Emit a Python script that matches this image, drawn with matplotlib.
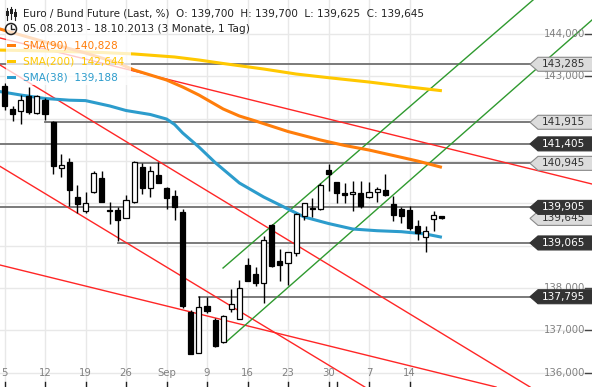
import numpy as np
import pandas as pd
import matplotlib
matplotlib.use("Agg")
import matplotlib.pyplot as plt
from matplotlib.patches import Rectangle, Polygon, Circle
from matplotlib.transforms import blended_transform_factory, IdentityTransform

plt.rcParams['font.family'] = ['DejaVu Sans']

# daily candles, Euro / Bund Future, 05.08.2013 - 18.10.2013
days = pd.bdate_range("2013-08-05", "2013-10-18")
opens = [142.77, 142.23, 142.17, 142.53, 142.13, 142.45, 141.93, 140.83, 140.97, 140.15,
         139.81, 140.28, 140.60, 139.85, 139.84, 139.66, 140.03, 140.85, 140.36, 140.67,
         140.36, 140.17, 139.79, 137.44, 136.46, 137.58, 137.25, 136.72, 137.50, 137.26,
         138.54, 138.32, 138.13, 139.49, 138.64, 138.58, 138.82, 139.71, 139.90, 139.87,
         140.79, 140.50, 140.24, 140.21, 140.24, 140.14, 140.28, 140.32, 139.98, 139.87,
         139.84, 139.47, 139.20, 139.62, 139.700]
highs = [142.84, 142.30, 142.57, 142.75, 142.57, 142.49, 141.95, 141.17, 141.07, 140.43,
         140.28, 140.76, 140.76, 140.03, 139.91, 140.19, 141.01, 140.95, 140.88, 140.98,
         140.39, 140.32, 139.86, 137.48, 137.82, 137.80, 137.29, 137.36, 137.97, 138.19,
         138.72, 138.50, 139.23, 139.51, 138.92, 138.84, 139.77, 140.02, 140.13, 140.47,
         140.93, 140.50, 140.49, 140.53, 140.52, 140.50, 140.38, 140.69, 140.17, 139.92,
         139.94, 139.61, 139.47, 139.82, 139.700]
lows = [142.20, 141.94, 141.88, 142.11, 142.11, 141.98, 140.70, 140.63, 139.93, 139.78,
        139.78, 140.24, 140.03, 139.52, 139.11, 139.65, 140.00, 140.21, 140.14, 140.49,
        139.86, 139.61, 137.52, 136.44, 136.46, 137.40, 136.61, 136.71, 137.44, 137.26,
        138.17, 138.06, 137.64, 138.50, 138.17, 138.07, 138.76, 139.61, 139.67, 139.84,
        140.30, 140.01, 140.00, 139.83, 139.88, 140.12, 140.04, 140.18, 139.59, 139.53,
        139.37, 139.13, 138.86, 139.35, 139.625]
closes = [142.30, 142.11, 142.43, 142.15, 142.54, 142.12, 140.88, 140.90, 140.32, 139.98,
          140.00, 140.71, 140.03, 139.83, 139.61, 140.07, 140.98, 140.36, 140.76, 140.49,
          140.13, 139.91, 137.58, 136.44, 137.56, 137.46, 136.63, 137.34, 137.62, 138.00,
          138.17, 138.11, 139.13, 138.52, 138.54, 138.84, 139.74, 140.00, 139.87, 140.43,
          140.69, 140.24, 140.20, 140.27, 139.94, 140.28, 140.33, 140.19, 139.73, 139.70,
          139.41, 139.29, 139.35, 139.72, 139.645]

# moving averages (bar index, value)
sma38_idx = [-1, 2, 5, 8, 10, 13, 15, 18, 20, 21, 22, 24, 26, 29, 32, 34, 37, 40, 43, 46, 49, 52, 54]
sma38_val = [142.654, 142.559, 142.477, 142.437, 142.427, 142.300, 142.193, 142.099, 141.992,
             141.863, 141.662, 141.331, 140.965, 140.481, 140.150, 139.961, 139.678, 139.524,
             139.394, 139.354, 139.331, 139.276, 139.20]
sma90_idx = [-1, 5, 10, 14, 16, 20, 22, 24, 27, 29, 31, 35, 39, 42, 45, 48, 51, 54]
sma90_val = [144.142, 143.811, 143.551, 143.315, 143.150, 142.914, 142.748, 142.559, 142.229,
             142.063, 141.945, 141.697, 141.497, 141.367, 141.260, 141.130, 141.000, 140.85]
sma200_idx = [-1, 5, 12, 16, 21, 24, 27, 32, 36, 40, 45, 50, 54]
sma200_val = [143.622, 143.599, 143.563, 143.528, 143.457, 143.386, 143.303, 143.173, 143.055,
              142.968, 142.866, 142.748, 142.66]

# trend lines: (idx0, price0, idx1, price1)
red_lines = [(-0.556, 143.906, 72.53, 140.457),
             (-0.556, 143.268, 64.88, 135.663),
             (-0.556, 140.875, 44.48, 135.663),
             (-0.556, 138.544, 60.68, 135.663)]
green_lines = [(26.98, 138.473, 65.25, 144.803),
               (27.35, 136.726, 72.53, 144.331)]

# horizontal levels: price, start index, dark label
levels = [143.285, 141.915, 141.405, 140.945, 139.905, 139.065, 137.795]
level_start = [-1, 5, -1, 16, -1, 14, 24]
level_dark = [False, False, True, False, True, True, True]
last_price = 139.645

# 139..142 sit fully under the level tags
y_ticks = [136, 137, 138, 143, 144]
grid_y = [136, 137, 138, 139, 140, 141, 142, 143, 144]
tick_dates = ["2013-08-05", "2013-08-12", "2013-08-19", "2013-08-26", "2013-09-02", "2013-09-09",
              "2013-09-16", "2013-09-23", "2013-09-30", "2013-10-01", "2013-10-07", "2013-10-14"]
tick_labels = ["5", "12", "19", "26", "Sep", "9", "16", "23", "30", "", "7", "14"]

W, H = 592, 387
fig = plt.figure(figsize=(W / 100, H / 100), dpi=100)
ax = fig.add_axes([0, 0, 1, 1])
ax.set_xlim(-0.556, 72.53)
ax.set_ylim(135.663, 144.803)
ax.axis('off')

tick_pos = [days.get_loc(pd.Timestamp(d)) for d in tick_dates]
bx = blended_transform_factory(ax.transData, ax.transAxes)
by = blended_transform_factory(ax.transAxes, ax.transData)

# grid
for p, lab in zip(tick_pos, tick_labels):
    if lab:
        ax.axvline(p, color='#e8e8e8', lw=1, zorder=0)
for p in grid_y:
    ax.axhline(p, color='#e8e8e8', lw=1, zorder=0)

# levels
for lv, st in zip(levels, level_start):
    ax.plot([st, 66], [lv, lv], color='#707070', lw=1.3, zorder=1)

for x0, y0, x1, y1 in red_lines:
    ax.plot([x0, x1], [y0, y1], color='#ff2626', lw=1.0, zorder=2)
for x0, y0, x1, y1 in green_lines:
    ax.plot([x0, x1], [y0, y1], color='#2f9a2f', lw=1.0, zorder=2)

ax.plot(sma200_idx, sma200_val, color='#ffc800', lw=2.2, zorder=3, solid_capstyle='butt')
ax.plot(sma90_idx, sma90_val, color='#ff7d0a', lw=2.2, zorder=3, solid_capstyle='butt')
ax.plot(sma38_idx, sma38_val, color='#2c9ccc', lw=2.2, zorder=3, solid_capstyle='butt')

# candles
bw = 0.62
for i, (o, h, l, c) in enumerate(zip(opens, highs, lows, closes)):
    ax.plot([i, i], [l, h], color='black', lw=1.0, zorder=4, solid_capstyle='butt')
    lo, hi = min(o, c), max(o, c)
    face = 'white' if c > o else 'black'
    ax.add_patch(Rectangle((i - bw / 2, lo), bw, max(hi - lo, 0.02), facecolor=face,
                           edgecolor='black', lw=0.9, zorder=5))

# y tick labels (right, inside)
for p in y_ticks:
    ax.text(0.988, p, f"{p},000", transform=by, ha='right', va='center', fontsize=7.3,
            color='#808080', zorder=6)
for p in grid_y:
    ax.plot([0.989, 1.0], [p, p], transform=by, color='#444444', lw=1, zorder=6)

# x tick labels
for p, lab in zip(tick_pos, tick_labels):
    ax.text(p, 0.036, lab, transform=bx, ha='center', va='center', fontsize=7.3,
            color='#808080', zorder=6)
    ax.plot([p, p], [0, 0.013], transform=bx, color='#222222', lw=1, zorder=6)

# price tags on the right (last price first so the level tags sit on top)
fig.canvas.draw()
ident = IdentityTransform()
tags = [(last_price, False)] + list(zip(levels, level_dark))
for k, (lv, dark) in enumerate(tags):
    yc = ax.transData.transform((0, lv))[1]
    verts = [(530, yc), (538, yc - 7), (593, yc - 7), (593, yc + 7), (538, yc + 7)]
    fc = '#333333' if dark else '#dcdcdc'
    ec = '#333333' if dark else '#8a8a8a'
    ax.add_patch(Polygon(verts, closed=True, facecolor=fc, edgecolor=ec, lw=0.8,
                         transform=ident, zorder=8 + 2 * k, clip_on=False))
    ax.text(542, yc, f"{lv:.3f}".replace('.', ','), transform=ident, ha='left', va='center',
            fontsize=7.6, color='white' if dark else '#333333', zorder=9 + 2 * k)

# legend area
ax.add_patch(Rectangle((6, H - 85), 125, 65, facecolor='white', alpha=0.75, edgecolor='none',
                       transform=ident, zorder=7))

def ytop(y):
    return H - y

fig.text(23 / W, 1 - 13 / H,
         "Euro / Bund Future (Last, %)  O: 139,700  H: 139,700  L: 139,625  C: 139,645",
         fontsize=7.5, color='#222222', va='center', ha='left', zorder=30)
fig.text(23 / W, 1 - 29 / H, "05.08.2013 - 18.10.2013 (3 Monate, 1 Tag)",
         fontsize=7.6, color='#222222', va='center', ha='left', zorder=30)
legend_items = [("SMA(90)  140,828", '#ff7d0a', 45),
                ("SMA(200)  142,644", '#ffc800', 61),
                ("SMA(38)  139,188", '#2c9ccc', 77)]
for txt, col, yy in legend_items:
    fig.text(23 / W, 1 - yy / H, txt, fontsize=7.6, color=col, va='center', ha='left', zorder=30)
    fig.add_artist(Rectangle((7, ytop(yy) - 1.5), 9, 3, facecolor=col, edgecolor='none',
                             transform=ident, zorder=30))

# candle icon
for cx, y0, y1, b0, b1 in [(7, 8, 20, 11, 16), (11, 7, 19, 9, 14), (15, 9, 20, 12, 17)]:
    fig.add_artist(plt.Line2D([cx, cx], [ytop(y0), ytop(y1)], color='#222222', lw=0.8,
                              transform=ident))
    fig.add_artist(Rectangle((cx - 1.5, ytop(b1)), 3, b1 - b0, facecolor='#222222',
                             edgecolor='none', transform=ident))
# clock icon
fig.add_artist(Circle((11, ytop(29)), 5.5, facecolor='none', edgecolor='#222222', lw=1.1,
                      transform=ident))
fig.add_artist(plt.Line2D([11, 11, 14], [ytop(25), ytop(29), ytop(29)], color='#222222',
                          lw=1.0, transform=ident))

fig.savefig("out.png", dpi=100)
